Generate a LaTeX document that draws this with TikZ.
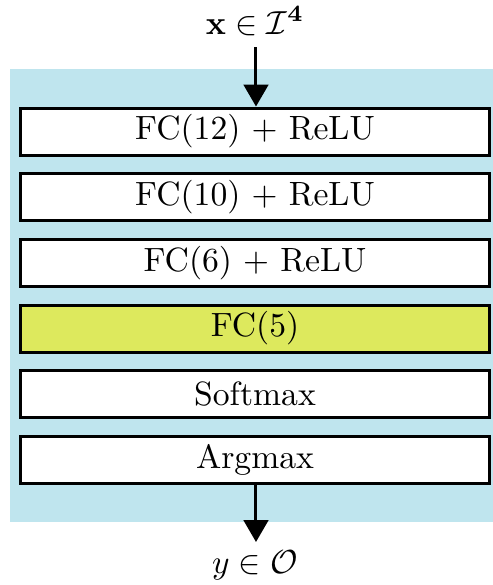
\documentclass[tikz,border=0pt]{standalone}
\usepackage{amsmath,amssymb}
\usetikzlibrary{arrows.meta}
\definecolor{bgblue}{RGB}{191,229,238}
\definecolor{fcyellow}{RGB}{221,233,93}
\begin{document}
\begin{tikzpicture}[x=0.3pt,y=-0.3pt,
  layer/.style={draw=black,line width=0.9pt,fill=white,minimum width=141pt,minimum height=14.1pt,inner sep=0pt,font=\fontsize{10.1}{12}\selectfont},
  lbl/.style={anchor=base,inner sep=0pt,font=\fontsize{10.1}{12}\selectfont},
  flow/.style={line width=0.9pt,-{Triangle[width=7.4pt,length=6.6pt]}}]
\useasboundingbox (0,0) rectangle (493,585);
\fill[bgblue] (10,69) rectangle (493,522);
\node[layer] (l1) at (255,131.5) {FC(12) $+$ ReLU};
\node[layer] (l2) at (255,197) {FC(10) $+$ ReLU};
\node[layer] (l3) at (255,263) {FC(6) $+$ ReLU};
\node[layer,fill=fcyellow] (l4) at (255,328.5) {FC(5)};
\node[layer] (l5) at (255,394) {Softmax};
\node[layer] (l6) at (255,459.5) {Argmax};
\node[lbl] (in) at (255,34) {$\mathbf{x}\in\mathcal{I}^{\mathbf{4}}$};
\node[lbl] (out) at (255,573) {$y\in\mathcal{O}$};
\coordinate (a0) at (256,47);
\coordinate (b1) at (256,542);
\draw[flow] (a0) -- (a0 |- l1.north);
\draw[flow] (l6.south -| b1) -- (b1);
\end{tikzpicture}
\end{document}
